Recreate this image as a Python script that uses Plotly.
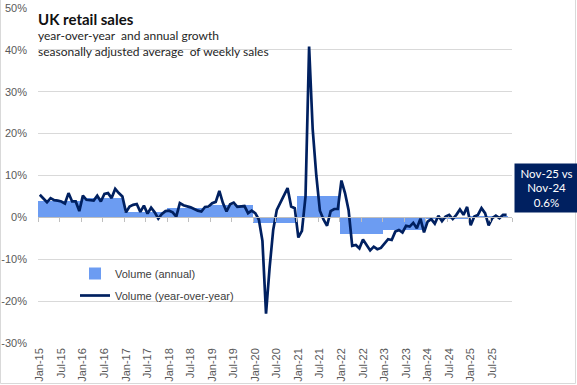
import pandas as pd
import plotly.graph_objects as go

# ---- data ----
months = pd.date_range("2015-01-01", "2025-12-01", freq="MS")  # category axis (Dec-25 empty)
yoy_2015 = [5.4, 4.5, 3.6, 4.6, 4.1, 4.0, 3.8, 3.3, 5.8, 3.8, 3.8, 1.5]
yoy_2016 = [5.2, 4.2, 4.1, 4.0, 5.2, 3.8, 5.6, 5.8, 4.6, 6.8, 5.8, 5.0]
yoy_2017 = [1.2, 2.6, 3.0, 3.2, 1.3, 2.8, 0.9, 2.3, 1.2, -0.3, 0.8, 1.5]
yoy_2018 = [1.6, 1.2, 0.2, 3.4, 2.9, 2.7, 2.4, 2.0, 1.6, 1.4, 2.5, 2.6]
yoy_2019 = [3.4, 3.7, 6.3, 3.4, 1.4, 3.1, 3.5, 2.5, 2.6, 2.7, 1.0, 1.6]
yoy_2020 = [1.0, -0.5, -5.6, -23.0, -12.0, -3.0, 1.8, 3.6, 5.2, 7.0, 2.6, 2.2]
yoy_2021 = [-4.8, -3.2, 5.0, 40.8, 21.0, 10.0, 1.6, -0.5, -2.0, 1.5, 2.0, 2.0]
yoy_2022 = [8.8, 5.8, 1.7, -6.8, -6.6, -7.4, -5.3, -6.6, -7.9, -7.0, -7.6, -7.3]
yoy_2023 = [-6.2, -5.2, -5.4, -3.4, -3.0, -3.6, -2.0, -2.2, -1.3, -2.6, -0.3, -3.6]
yoy_2024 = [-1.0, -0.4, -1.5, 0.4, -0.9, 0.2, 0.6, -0.4, 0.6, 1.9, 0.6, 2.5]
yoy_2025 = [-1.9, 0.2, 0.6, 2.2, 1.0, -1.9, -0.2, 0.4, -0.2, 0.6, 0.6]
yoy = (yoy_2015 + yoy_2016 + yoy_2017 + yoy_2018 + yoy_2019 + yoy_2020
       + yoy_2021 + yoy_2022 + yoy_2023 + yoy_2024 + yoy_2025)

years = [2015, 2016, 2017, 2018, 2019, 2020, 2021, 2022, 2023, 2024, 2025]
annual = [4.0, 4.6, 1.4, 2.2, 3.0, -1.4, 5.0, -3.95, -3.0, -0.3, 0.3]

y_tickvals = [-30, -20, -10, 0, 10, 20, 30, 40, 50]
y_ticktext = ["-30%", "-20%", "-10%", "0%", "10%", "20%", "30%", "40%", "50%"]

# ---- derived positions ----
n_cat = len(months)
idx = list(range(len(yoy)))
bar_x, bar_w = [], []
for k, yr in enumerate(years):
    start = 12 * k
    n = min(12, len(yoy) - start)
    bar_x.append(start + (n - 1) / 2)
    bar_w.append(n)

x_tickvals = list(range(0, n_cat, 6))
x_ticktext = [months[i].strftime("%b-%y") for i in x_tickvals]
xrange = [-0.5, n_cat - 0.5]
ymin, ymax = -30, 50

BAR = "#6C9CF2"
NAVY = "#002060"
GREY = "#595959"

fig = go.Figure()
fig.add_trace(go.Bar(
    x=bar_x, y=annual, width=bar_w, name="Volume (annual)",
    marker=dict(color=BAR, line=dict(width=0)),
    xaxis="x", yaxis="y", legendgroup="a",
))
fig.add_trace(go.Scatter(
    x=idx, y=yoy, mode="lines", name="Volume (year-over-year)",
    line=dict(color=NAVY, width=2.7),
    xaxis="x2", yaxis="y", legendgroup="b",
))

zero_pos = (0 - ymin) / (ymax - ymin)

fig.update_layout(
    width=577, height=385,
    margin=dict(l=38, r=65, t=8, b=42, autoexpand=False),
    paper_bgcolor="white", plot_bgcolor="white",
    bargap=0,
    showlegend=True,
    font=dict(family="Liberation Sans, Arial, sans-serif", size=11, color=GREY),
    xaxis=dict(
        range=xrange, tickmode="array", tickvals=x_tickvals, ticktext=x_ticktext,
        tickangle=-90, showgrid=False, zeroline=False, showline=False, ticks="",
        tickfont=dict(size=11, color=GREY), ticklabelstandoff=2, automargin=False,
    ),
    xaxis2=dict(
        range=xrange, overlaying="x", anchor="free", position=zero_pos, side="bottom",
        showgrid=False, zeroline=False, showline=True, linecolor="#BFBFBF", linewidth=1,
        ticks="outside", ticklen=4, tickcolor="#BFBFBF", tickwidth=1,
        tickmode="array", tickvals=[v - 0.5 for v in range(0, n_cat + 1, 6)],
        showticklabels=False, automargin=False,
    ),
    yaxis=dict(
        range=[ymin, ymax], tickmode="array", tickvals=y_tickvals, ticktext=y_ticktext,
        showgrid=True, gridcolor="#D9D9D9", gridwidth=1, zeroline=False, showline=False,
        ticks="", tickfont=dict(size=11, color=GREY), ticklabelstandoff=10, automargin=False,
    ),
    legend=dict(
        x=(75 - 38) / 474, y=(343 - 259) / 335, xanchor="left", yanchor="top",
        bgcolor="rgba(0,0,0,0)", font=dict(size=11, color="#404040"),
        traceorder="grouped", tracegroupgap=3,
    ),
)

def px_x(px):
    return (px - 38) / 474

def px_y(py):
    return (343 - py) / 335

annotations = [
    dict(text="<b>UK retail sales</b>", x=px_x(36), y=px_y(18.5), xanchor="left", yanchor="middle",
         font=dict(family="Lato, Liberation Sans, sans-serif", size=15, color="#111111")),
    dict(text="year-over-year\u00a0 and annual growth", x=px_x(36), y=px_y(35), xanchor="left",
         yanchor="middle", font=dict(family="Lato, Liberation Sans, sans-serif", size=12, color="#262626")),
    dict(text="seasonally adjusted average\u00a0 of weekly sales", x=px_x(36), y=px_y(51),
         xanchor="left", yanchor="middle",
         font=dict(family="Lato, Liberation Sans, sans-serif", size=12, color="#262626")),
    dict(text=f"{months[len(yoy)-1].strftime('%b-%y')} vs<br>{months[len(yoy)-13].strftime('%b-%y')}<br>{yoy[-1]:.1f}%",
         x=px_x(514), y=px_y(163), xanchor="left", yanchor="top", width=63, height=48,
         bgcolor=NAVY, borderpad=0, showarrow=False, align="center", valign="middle",
         font=dict(family="Lato, Liberation Sans, sans-serif", size=11.5, color="white")),
]
for a in annotations:
    a.setdefault("showarrow", False)
    a["xref"] = "paper"
    a["yref"] = "paper"
fig.update_layout(annotations=annotations)

# outer chart border (left, bottom, right)
fig.add_shape(type="path", xref="paper", yref="paper",
              path=f"M {px_x(0.5)},{px_y(-5)} L {px_x(0.5)},{px_y(383.5)} L {px_x(575.5)},{px_y(383.5)} L {px_x(575.5)},{px_y(-5)}",
              line=dict(color="#D9D9D9", width=1), layer="below")

fig.write_html("out.html", config={"displayModeBar": False},
               post_script="document.body.style.margin='0';document.body.style.overflow='hidden';")
